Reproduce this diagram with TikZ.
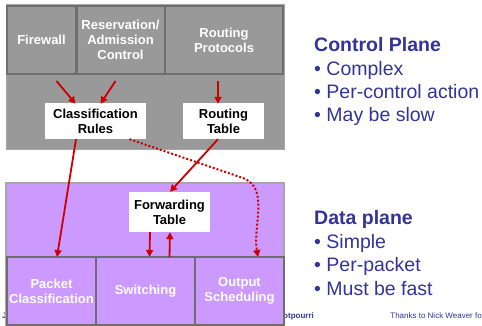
\documentclass[tikz,border=0pt]{standalone}
\usepackage{fontspec}
\setmainfont{Liberation Sans}
\usetikzlibrary{arrows.meta,calc}
\definecolor{cgray}{HTML}{999999}
\definecolor{cdark}{HTML}{6E6E6E}
\definecolor{clight}{HTML}{A6A6A6}
\definecolor{cpurple}{HTML}{CC99FF}
\definecolor{cred}{HTML}{CC0000}
\definecolor{cblue}{HTML}{333399}
\tikzset{
  x=1pt, y=-1pt,
  compbox/.style={draw=cdark, line width=2pt, inner sep=0pt, align=center,
    font=\fontsize{13}{15}\selectfont\bfseries, text=white},
  tablebox/.style={fill=white, inner sep=0pt, align=center,
    font=\fontsize{13}{15}\selectfont\bfseries, text=black},
  redarrow/.style={draw=cred, line width=1.8pt, -{Triangle[length=7pt,width=7pt]}},
  reddotted/.style={draw=cred, line width=2pt, dotted, -{Triangle[length=7pt,width=7pt]}},
  heading/.style={anchor=base west, inner sep=0pt, text=cblue, font=\fontsize{19.5}{23}\selectfont\bfseries},
  bullet/.style={anchor=base west, inner sep=0pt, text=cblue, font=\fontsize{19.5}{23}\selectfont},
  footer/.style={inner sep=0pt, text=cblue, font=\fontsize{8}{9}\selectfont},
}
\begin{document}
\begin{tikzpicture}
\useasboundingbox (0,0) rectangle (482,326);
% footer texts (behind boxes)
\node[footer, anchor=base west, font=\fontsize{8}{9}\selectfont\bfseries] (fj) at (2,318) {J};
\node[footer, anchor=base west, font=\fontsize{8}{9}\selectfont\bfseries] (fp) at (283,318) {otpourri};
\node[footer, anchor=base east] (ft2) at (482,318) {Thanks to Nick Weaver fo};
% control plane block
\node[fill=cgray, draw=clight, line width=1pt, minimum width=278pt, minimum height=145pt, inner sep=0pt] (ctrl) at (145,77.5) {};
\node[compbox, fill=cgray, minimum width=69pt, minimum height=68pt] (fw) at (41.5,40) {Firewall};
\node[compbox, fill=cgray, minimum width=88pt, minimum height=68pt] (ra) at (120.5,40) {Reservation/\\Admission\\Control};
\node[compbox, fill=cgray, minimum width=118pt, minimum height=68pt] (rp) at (224,40) {Routing\\Protocols};
\node[tablebox, minimum width=101pt, minimum height=36pt] (cr) at (95.5,121) {Classification\\Rules};
\node[tablebox, minimum width=81pt, minimum height=36pt] (rt) at (223.5,121) {Routing\\Table};
% data plane block
\node[fill=cpurple, draw=clight, line width=2pt, minimum width=278pt, minimum height=142pt, inner sep=0pt] (data) at (145,254) {};
\node[tablebox, minimum width=81pt, minimum height=40pt] (fwt) at (169.5,212) {Forwarding\\Table};
\node[compbox, fill=cpurple, minimum width=89pt, minimum height=68pt] (pc) at (51.5,291) {Packet\\Classification};
\node[compbox, fill=cpurple, minimum width=99pt, minimum height=68pt] (sw) at (145.5,291) {Switching};
\node[compbox, fill=cpurple, minimum width=89pt, minimum height=68pt] (os) at (239.5,291) {Output\\Scheduling};
% arrows
\draw[redarrow] ([xshift=15pt,yshift=-6pt]fw.south) -- ([xshift=-20pt,yshift=-1pt]cr.north);
\draw[redarrow] ([xshift=-5pt,yshift=-6pt]ra.south) -- ([xshift=5pt,yshift=-1pt]cr.north);
\draw[redarrow] ([xshift=-6pt,yshift=-6pt]rp.south) -- ([xshift=-5.5pt,yshift=-1pt]rt.north);
\draw[redarrow] ([xshift=-19.5pt]cr.south) -- ([xshift=5.5pt,yshift=-1pt]pc.north);
\draw[redarrow] ([xshift=-5.5pt]rt.south) -- ([xshift=0.5pt]fwt.north);
\coordinate (bend) at (240,177);
\draw[reddotted] ([xshift=34pt]cr.south) -- (bend) to[out=-15,in=100] ([xshift=18.5pt,yshift=-1pt]os.north);
\draw[redarrow] ([xshift=-19.5pt]fwt.south) -- ([xshift=4pt,yshift=-1pt]sw.north);
\draw[redarrow] ([xshift=24pt,yshift=-1pt]sw.north) -- ([xshift=0.5pt]fwt.south);
% right side text
\node[heading] (cph) at (314,52) {Control Plane};
\node[bullet] (cp1) at (314,76) {• Complex};
\node[bullet] (cp2) at (314,99) {• Per-control action};
\node[bullet] (cp3) at (314,122) {• May be slow};
\node[heading] (dph) at (314,224) {Data plane};
\node[bullet] (dp1) at (314,248) {• Simple};
\node[bullet] (dp2) at (314,271) {• Per-packet};
\node[bullet] (dp3) at (314,295) {• Must be fast};
\end{tikzpicture}
\end{document}
